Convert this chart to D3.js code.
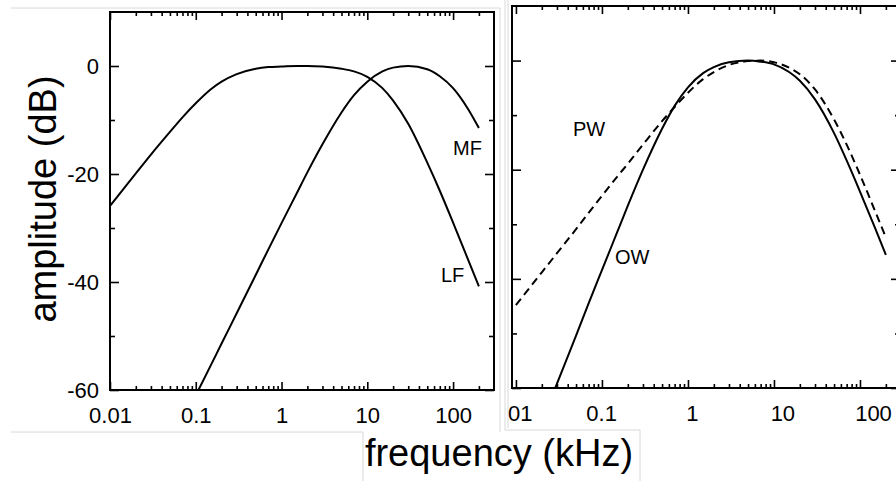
<!DOCTYPE html>
<html>
<head>
<meta charset="utf-8">
<script src="https://cdn.jsdelivr.net/npm/d3@7"></script>
<style>
  body { margin: 0; background: #fff; }
  svg { display: block; }
  text { font-family: Arial, "Liberation Sans", sans-serif; }
</style>
</head>
<body>
<svg id="chart" width="896" height="481"></svg>
<script>
// sample frequencies (kHz), shared by all four curves
const freq = [0.01, 0.02, 0.03, 0.05, 0.07, 0.1, 0.15, 0.2, 0.3, 0.5, 0.7, 1, 1.5, 2, 3, 5, 7, 10, 15, 20, 30, 50, 70, 100, 150, 200];

// amplitude (dB), null where the curve is below the frame
const lfValues = [-25.9, -19.9, -16.4, -12.2, -9.5, -6.9, -4.3, -2.9, -1.5, -0.5, -0.2, -0.1, 0, 0, -0.1, -0.5, -1.0, -2.0, -4.1, -6.4, -10.7, -17.9, -23.1, -29.0, -35.9, -40.8];
const mfValues = [null, null, null, null, null, -61.0, -55.4, -51.4, -45.8, -38.7, -34.0, -29.1, -23.6, -19.7, -14.5, -8.6, -5.4, -2.9, -1.0, -0.3, 0, -0.6, -1.9, -4.1, -8.0, -11.5];
const pwValues = [-44.8, -38.8, -35.3, -30.9, -27.9, -24.8, -21.3, -18.9, -15.4, -11.1, -8.5, -5.9, -3.4, -2.1, -0.8, -0.1, 0, -0.3, -1.3, -2.5, -5.3, -10.8, -15.4, -20.9, -27.6, -32.4];
const owValues = [null, -66.3, -59.2, -50.4, -44.5, -38.4, -31.5, -26.6, -20.0, -12.5, -8.3, -4.9, -2.3, -1.2, -0.3, 0, -0.2, -0.7, -2.1, -3.7, -7.1, -13.3, -18.3, -24.0, -30.7, -35.6];

// ticks
const xMajor = [0.01, 0.1, 1, 10, 100];
const xMajorLabels = ['0.01', '0.1', '1', '10', '100'];
const xMinor = [0.01, 0.1, 1, 10].flatMap(d => d3.range(2, 10).map(k => k * d)).concat([200]);
const yMajor = [0, -20, -40, -60];
const yMajorLabels = ['0', '-20', '-40', '-60'];
const yMinor = [-10, -30, -50];

const svg = d3.select('#chart');

// faint frame lines left over from the screenshot boxes
const boxLines = [
    [11, 8, 500, 8], [500, 8, 500, 432], [11, 432, 363, 432],
    [363, 432, 363, 481], [505, 0, 505, 430], [508, 0, 508, 428],
    [505, 430, 640, 430], [640, 430, 640, 481]
];
svg.selectAll('line.box')
    .data(boxLines)
    .join('line')
    .attr('class', 'box')
    .attr('x1', d => d[0]).attr('y1', d => d[1])
    .attr('x2', d => d[2]).attr('y2', d => d[3])
    .attr('stroke', '#d8d8d8')
    .attr('stroke-width', 1);

function drawPanel(opt) {
    const x = d3.scaleLog().domain(opt.xDomain).range(opt.xRange);
    const y = d3.scaleLinear().domain([-60, 10]).range(opt.yRange);
    // the tick labels of the right panel sit a little wider apart than its ticks
    const xLabel = opt.labelRange
        ? d3.scaleLog().domain([0.01, 100]).range(opt.labelRange)
        : x;
    const [x0, x1] = opt.xRange;
    const [yb, yt] = opt.yRange;

    const g = svg.append('g');

    g.append('clipPath').attr('id', opt.id + '-clip')
        .append('rect')
        .attr('x', opt.clipX).attr('y', 0)
        .attr('width', 896 - opt.clipX).attr('height', 481);

    const root = g.append('g').attr('clip-path', `url(#${opt.id}-clip)`);

    root.append('clipPath').attr('id', opt.id + '-plot')
        .append('rect')
        .attr('x', x0).attr('y', yt)
        .attr('width', x1 - x0).attr('height', yb - yt);

    // axes, ticks pointing inward
    const noLabel = () => '';
    const addAxis = (axis, tx, ty) => {
        const a = root.append('g').attr('transform', `translate(${tx},${ty})`).call(axis);
        a.attr('font-family', null);
        a.select('.domain').remove();
        a.selectAll('line').attr('stroke', '#000').attr('stroke-width', 1.6);
        a.selectAll('text').attr('fill', '#000').style('font-size', '22px');
        return a;
    };

    addAxis(d3.axisBottom(x).tickValues(xMinor).tickSize(-4).tickFormat(noLabel), 0, yb);
    const bottom = addAxis(d3.axisBottom(x).tickValues(xMajor).tickSize(-8).tickPadding(17)
        .tickFormat((d, i) => xMajorLabels[i]), 0, yb);
    bottom.selectAll('text').attr('x', d => xLabel(d) - x(d));
    addAxis(d3.axisTop(x).tickValues(xMinor).tickSize(-4).tickFormat(noLabel), 0, yt);
    addAxis(d3.axisTop(x).tickValues(xMajor).tickSize(-8).tickFormat(noLabel), 0, yt);

    addAxis(d3.axisLeft(y).tickValues(yMinor).tickSize(-5).tickFormat(noLabel), x0, 0);
    addAxis(d3.axisLeft(y).tickValues(yMajor).tickSize(-9).tickPadding(11)
        .tickFormat((d, i) => opt.yLabels ? yMajorLabels[i] : ''), x0, 0);
    addAxis(d3.axisRight(y).tickValues(yMinor).tickSize(-5).tickFormat(noLabel), x1, 0);
    addAxis(d3.axisRight(y).tickValues(yMajor).tickSize(-9).tickFormat(noLabel), x1, 0);

    // frame
    root.append('rect')
        .attr('x', x0).attr('y', yt)
        .attr('width', x1 - x0).attr('height', yb - yt)
        .attr('fill', 'none')
        .attr('stroke', '#000')
        .attr('stroke-width', 2);

    const line = d3.line()
        .defined(d => d[1] !== null)
        .x(d => x(d[0]))
        .y(d => y(d[1]))
        .curve(d3.curveMonotoneX);

    opt.series.forEach(s => {
        root.append('path')
            .datum(freq.map((f, i) => [f, s.values[i]]))
            .attr('clip-path', `url(#${opt.id}-plot)`)
            .attr('d', line)
            .attr('fill', 'none')
            .attr('stroke', '#000')
            .attr('stroke-width', 2)
            .attr('stroke-dasharray', s.dash || null);

        root.append('text')
            .attr('x', s.labelAt[0])
            .attr('y', s.labelAt[1])
            .style('font-size', '20px')
            .attr('fill', '#000')
            .text(s.name);
    });
}

drawPanel({
    id: 'left',
    xDomain: [0.01, 300],
    xRange: [110, 494],
    yRange: [390, 12],
    clipX: 0,
    yLabels: true,
    series: [
        { name: 'LF', values: lfValues, labelAt: [441, 282] },
        { name: 'MF', values: mfValues, labelAt: [453, 155] }
    ]
});

drawPanel({
    id: 'right',
    xDomain: [0.009, 292],
    xRange: [512, 900],
    yRange: [388, 6],
    labelRange: [510.5, 873],
    clipX: 508,
    yLabels: false,
    series: [
        { name: 'PW', values: pwValues, labelAt: [573, 136], dash: '8,5' },
        { name: 'OW', values: owValues, labelAt: [615, 264] }
    ]
});

// axis titles
svg.append('text')
    .attr('transform', 'translate(56,199) rotate(-90)')
    .attr('text-anchor', 'middle')
    .style('font-size', '38px')
    .attr('fill', '#000')
    .text('amplitude (dB)');

svg.append('text')
    .attr('x', 499)
    .attr('y', 466)
    .attr('text-anchor', 'middle')
    .style('font-size', '38px')
    .attr('fill', '#000')
    .text('frequency (kHz)');
</script>
</body>
</html>
